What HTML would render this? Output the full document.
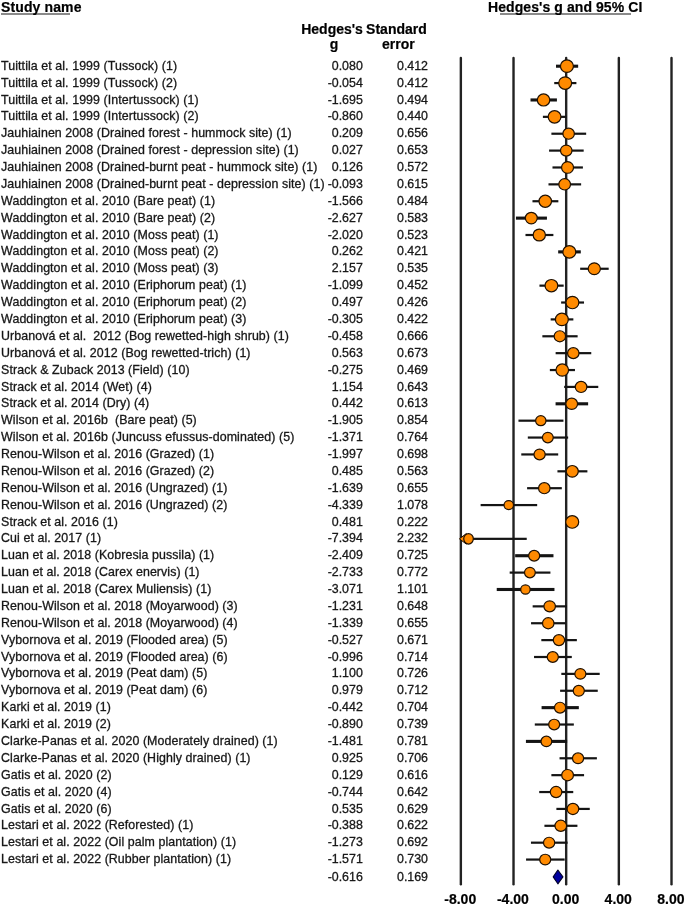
<!DOCTYPE html>
<html><head><meta charset="utf-8"><style>
html,body{margin:0;padding:0;background:#fff;}
#w{position:absolute;left:0;top:0;width:685px;height:906px;will-change:transform;}
body{width:685px;height:906px;position:relative;overflow:hidden;font-family:"Liberation Sans",sans-serif;color:#111;}
.t{position:absolute;white-space:pre;font-size:12.4px;line-height:14px;-webkit-text-stroke:0.3px #222;}
.n{letter-spacing:0.08px;}
.ti{letter-spacing:0.08px;}
.r{text-align:right;width:60px;}
.h{z-index:2;position:absolute;white-space:pre;font-size:14px;font-weight:bold;line-height:16px;color:#000;-webkit-text-stroke:0.2px #000;}
.c{text-align:center;}
svg{position:absolute;left:0;top:0;z-index:1;}
</style></head><body><div id="w">

<div class="h" style="left:1px;letter-spacing:0.12px;top:-1.25px">Study name</div>
<div class="h ti" style="left:488px;top:-1.25px">Hedges's g and 95% CI</div>
<div class="h c" style="left:294px;width:80px;top:21.25px">Hedges's </div>
<div class="h c" style="left:294px;width:80px;top:35.55px">g</div>
<div class="h c" style="left:358.4px;width:80px;top:21.25px">Standard </div>
<div class="h c" style="left:358.4px;width:80px;top:35.55px">error</div>
<div class="t n" style="left:1.1px;top:58.80px">Tuittila et al. 1999 (Tussock) (1)</div>
<div class="t r" style="left:302.8px;top:58.80px">0.080</div>
<div class="t r" style="left:368.0px;top:58.80px">0.412</div>
<div class="t n" style="left:1.1px;top:75.68px">Tuittila et al. 1999 (Tussock) (2)</div>
<div class="t r" style="left:302.8px;top:75.68px">-0.054</div>
<div class="t r" style="left:368.0px;top:75.68px">0.412</div>
<div class="t n" style="left:1.1px;top:92.56px">Tuittila et al. 1999 (Intertussock) (1)</div>
<div class="t r" style="left:302.8px;top:92.56px">-1.695</div>
<div class="t r" style="left:368.0px;top:92.56px">0.494</div>
<div class="t n" style="left:1.1px;top:109.44px">Tuittila et al. 1999 (Intertussock) (2)</div>
<div class="t r" style="left:302.8px;top:109.44px">-0.860</div>
<div class="t r" style="left:368.0px;top:109.44px">0.440</div>
<div class="t n" style="left:1.1px;top:126.32px">Jauhiainen 2008 (Drained forest - hummock site) (1)</div>
<div class="t r" style="left:302.8px;top:126.32px">0.209</div>
<div class="t r" style="left:368.0px;top:126.32px">0.656</div>
<div class="t n" style="left:1.1px;top:143.20px">Jauhiainen 2008 (Drained forest - depression site) (1)</div>
<div class="t r" style="left:302.8px;top:143.20px">0.027</div>
<div class="t r" style="left:368.0px;top:143.20px">0.653</div>
<div class="t n" style="left:1.1px;top:160.08px">Jauhiainen 2008 (Drained-burnt peat - hummock site) (1)</div>
<div class="t r" style="left:302.8px;top:160.08px">0.126</div>
<div class="t r" style="left:368.0px;top:160.08px">0.572</div>
<div class="t n" style="left:1.1px;top:176.96px">Jauhiainen 2008 (Drained-burnt peat - depression site) (1)</div>
<div class="t r" style="left:302.8px;top:176.96px">-0.093</div>
<div class="t r" style="left:368.0px;top:176.96px">0.615</div>
<div class="t n" style="left:1.1px;top:193.84px">Waddington et al. 2010 (Bare peat) (1)</div>
<div class="t r" style="left:302.8px;top:193.84px">-1.566</div>
<div class="t r" style="left:368.0px;top:193.84px">0.484</div>
<div class="t n" style="left:1.1px;top:210.72px">Waddington et al. 2010 (Bare peat) (2)</div>
<div class="t r" style="left:302.8px;top:210.72px">-2.627</div>
<div class="t r" style="left:368.0px;top:210.72px">0.583</div>
<div class="t n" style="left:1.1px;top:227.60px">Waddington et al. 2010 (Moss peat) (1)</div>
<div class="t r" style="left:302.8px;top:227.60px">-2.020</div>
<div class="t r" style="left:368.0px;top:227.60px">0.523</div>
<div class="t n" style="left:1.1px;top:244.48px">Waddington et al. 2010 (Moss peat) (2)</div>
<div class="t r" style="left:302.8px;top:244.48px">0.262</div>
<div class="t r" style="left:368.0px;top:244.48px">0.421</div>
<div class="t n" style="left:1.1px;top:261.36px">Waddington et al. 2010 (Moss peat) (3)</div>
<div class="t r" style="left:302.8px;top:261.36px">2.157</div>
<div class="t r" style="left:368.0px;top:261.36px">0.535</div>
<div class="t n" style="left:1.1px;top:278.24px">Waddington et al. 2010 (Eriphorum peat) (1)</div>
<div class="t r" style="left:302.8px;top:278.24px">-1.099</div>
<div class="t r" style="left:368.0px;top:278.24px">0.452</div>
<div class="t n" style="left:1.1px;top:295.12px">Waddington et al. 2010 (Eriphorum peat) (2)</div>
<div class="t r" style="left:302.8px;top:295.12px">0.497</div>
<div class="t r" style="left:368.0px;top:295.12px">0.426</div>
<div class="t n" style="left:1.1px;top:312.00px">Waddington et al. 2010 (Eriphorum peat) (3)</div>
<div class="t r" style="left:302.8px;top:312.00px">-0.305</div>
<div class="t r" style="left:368.0px;top:312.00px">0.422</div>
<div class="t n" style="left:1.1px;top:328.88px">Urbanová et al.  2012 (Bog rewetted-high shrub) (1)</div>
<div class="t r" style="left:302.8px;top:328.88px">-0.458</div>
<div class="t r" style="left:368.0px;top:328.88px">0.666</div>
<div class="t n" style="left:1.1px;top:345.76px">Urbanová et al. 2012 (Bog rewetted-trich) (1)</div>
<div class="t r" style="left:302.8px;top:345.76px">0.563</div>
<div class="t r" style="left:368.0px;top:345.76px">0.673</div>
<div class="t n" style="left:1.1px;top:362.64px">Strack &amp; Zuback 2013 (Field) (10)</div>
<div class="t r" style="left:302.8px;top:362.64px">-0.275</div>
<div class="t r" style="left:368.0px;top:362.64px">0.469</div>
<div class="t n" style="left:1.1px;top:379.52px">Strack et al. 2014 (Wet) (4)</div>
<div class="t r" style="left:302.8px;top:379.52px">1.154</div>
<div class="t r" style="left:368.0px;top:379.52px">0.643</div>
<div class="t n" style="left:1.1px;top:396.40px">Strack et al. 2014 (Dry) (4)</div>
<div class="t r" style="left:302.8px;top:396.40px">0.442</div>
<div class="t r" style="left:368.0px;top:396.40px">0.613</div>
<div class="t n" style="left:1.1px;top:413.28px">Wilson et al. 2016b  (Bare peat) (5)</div>
<div class="t r" style="left:302.8px;top:413.28px">-1.905</div>
<div class="t r" style="left:368.0px;top:413.28px">0.854</div>
<div class="t n" style="left:1.1px;top:430.16px">Wilson et al. 2016b (Juncuss efussus-dominated) (5)</div>
<div class="t r" style="left:302.8px;top:430.16px">-1.371</div>
<div class="t r" style="left:368.0px;top:430.16px">0.764</div>
<div class="t n" style="left:1.1px;top:447.04px">Renou-Wilson et al. 2016 (Grazed) (1)</div>
<div class="t r" style="left:302.8px;top:447.04px">-1.997</div>
<div class="t r" style="left:368.0px;top:447.04px">0.698</div>
<div class="t n" style="left:1.1px;top:463.92px">Renou-Wilson et al. 2016 (Grazed) (2)</div>
<div class="t r" style="left:302.8px;top:463.92px">0.485</div>
<div class="t r" style="left:368.0px;top:463.92px">0.563</div>
<div class="t n" style="left:1.1px;top:480.80px">Renou-Wilson et al. 2016 (Ungrazed) (1)</div>
<div class="t r" style="left:302.8px;top:480.80px">-1.639</div>
<div class="t r" style="left:368.0px;top:480.80px">0.655</div>
<div class="t n" style="left:1.1px;top:497.68px">Renou-Wilson et al. 2016 (Ungrazed) (2)</div>
<div class="t r" style="left:302.8px;top:497.68px">-4.339</div>
<div class="t r" style="left:368.0px;top:497.68px">1.078</div>
<div class="t n" style="left:1.1px;top:514.56px">Strack et al. 2016 (1)</div>
<div class="t r" style="left:302.8px;top:514.56px">0.481</div>
<div class="t r" style="left:368.0px;top:514.56px">0.222</div>
<div class="t n" style="left:1.1px;top:531.44px">Cui et al. 2017 (1)</div>
<div class="t r" style="left:302.8px;top:531.44px">-7.394</div>
<div class="t r" style="left:368.0px;top:531.44px">2.232</div>
<div class="t n" style="left:1.1px;top:548.32px">Luan et al. 2018 (Kobresia pussila) (1)</div>
<div class="t r" style="left:302.8px;top:548.32px">-2.409</div>
<div class="t r" style="left:368.0px;top:548.32px">0.725</div>
<div class="t n" style="left:1.1px;top:565.20px">Luan et al. 2018 (Carex enervis) (1)</div>
<div class="t r" style="left:302.8px;top:565.20px">-2.733</div>
<div class="t r" style="left:368.0px;top:565.20px">0.772</div>
<div class="t n" style="left:1.1px;top:582.08px">Luan et al. 2018 (Carex Muliensis) (1)</div>
<div class="t r" style="left:302.8px;top:582.08px">-3.071</div>
<div class="t r" style="left:368.0px;top:582.08px">1.101</div>
<div class="t n" style="left:1.1px;top:598.96px">Renou-Wilson et al. 2018 (Moyarwood) (3)</div>
<div class="t r" style="left:302.8px;top:598.96px">-1.231</div>
<div class="t r" style="left:368.0px;top:598.96px">0.648</div>
<div class="t n" style="left:1.1px;top:615.84px">Renou-Wilson et al. 2018 (Moyarwood) (4)</div>
<div class="t r" style="left:302.8px;top:615.84px">-1.339</div>
<div class="t r" style="left:368.0px;top:615.84px">0.655</div>
<div class="t n" style="left:1.1px;top:632.72px">Vybornova et al. 2019 (Flooded area) (5)</div>
<div class="t r" style="left:302.8px;top:632.72px">-0.527</div>
<div class="t r" style="left:368.0px;top:632.72px">0.671</div>
<div class="t n" style="left:1.1px;top:649.60px">Vybornova et al. 2019 (Flooded area) (6)</div>
<div class="t r" style="left:302.8px;top:649.60px">-0.996</div>
<div class="t r" style="left:368.0px;top:649.60px">0.714</div>
<div class="t n" style="left:1.1px;top:666.48px">Vybornova et al. 2019 (Peat dam) (5)</div>
<div class="t r" style="left:302.8px;top:666.48px">1.100</div>
<div class="t r" style="left:368.0px;top:666.48px">0.726</div>
<div class="t n" style="left:1.1px;top:683.36px">Vybornova et al. 2019 (Peat dam) (6)</div>
<div class="t r" style="left:302.8px;top:683.36px">0.979</div>
<div class="t r" style="left:368.0px;top:683.36px">0.712</div>
<div class="t n" style="left:1.1px;top:700.24px">Karki et al. 2019 (1)</div>
<div class="t r" style="left:302.8px;top:700.24px">-0.442</div>
<div class="t r" style="left:368.0px;top:700.24px">0.704</div>
<div class="t n" style="left:1.1px;top:717.12px">Karki et al. 2019 (2)</div>
<div class="t r" style="left:302.8px;top:717.12px">-0.890</div>
<div class="t r" style="left:368.0px;top:717.12px">0.739</div>
<div class="t n" style="left:1.1px;top:734.00px">Clarke-Panas et al. 2020 (Moderately drained) (1)</div>
<div class="t r" style="left:302.8px;top:734.00px">-1.481</div>
<div class="t r" style="left:368.0px;top:734.00px">0.781</div>
<div class="t n" style="left:1.1px;top:750.88px">Clarke-Panas et al. 2020 (Highly drained) (1)</div>
<div class="t r" style="left:302.8px;top:750.88px">0.925</div>
<div class="t r" style="left:368.0px;top:750.88px">0.706</div>
<div class="t n" style="left:1.1px;top:767.76px">Gatis et al. 2020 (2)</div>
<div class="t r" style="left:302.8px;top:767.76px">0.129</div>
<div class="t r" style="left:368.0px;top:767.76px">0.616</div>
<div class="t n" style="left:1.1px;top:784.64px">Gatis et al. 2020 (4)</div>
<div class="t r" style="left:302.8px;top:784.64px">-0.744</div>
<div class="t r" style="left:368.0px;top:784.64px">0.642</div>
<div class="t n" style="left:1.1px;top:801.52px">Gatis et al. 2020 (6)</div>
<div class="t r" style="left:302.8px;top:801.52px">0.535</div>
<div class="t r" style="left:368.0px;top:801.52px">0.629</div>
<div class="t n" style="left:1.1px;top:818.40px">Lestari et al. 2022 (Reforested) (1)</div>
<div class="t r" style="left:302.8px;top:818.40px">-0.388</div>
<div class="t r" style="left:368.0px;top:818.40px">0.622</div>
<div class="t n" style="left:1.1px;top:835.28px">Lestari et al. 2022 (Oil palm plantation) (1)</div>
<div class="t r" style="left:302.8px;top:835.28px">-1.273</div>
<div class="t r" style="left:368.0px;top:835.28px">0.692</div>
<div class="t n" style="left:1.1px;top:852.16px">Lestari et al. 2022 (Rubber plantation) (1)</div>
<div class="t r" style="left:302.8px;top:852.16px">-1.571</div>
<div class="t r" style="left:368.0px;top:852.16px">0.730</div>
<div class="t r" style="left:302.8px;top:869.60px">-0.616</div>
<div class="t r" style="left:368.0px;top:869.60px">0.169</div>
<div class="h c" style="left:430.25px;width:60px;top:890.55px">-8.00</div>
<div class="h c" style="left:482.92px;width:60px;top:890.55px">-4.00</div>
<div class="h c" style="left:535.58px;width:60px;top:890.55px">0.00</div>
<div class="h c" style="left:588.24px;width:60px;top:890.55px">4.00</div>
<div class="h c" style="left:640.91px;width:60px;top:890.55px">8.00</div>
<svg width="685" height="906">
<rect x="1" y="13" width="69" height="2" fill="#8a8a8a"/>
<rect x="500" y="13" width="131" height="2" fill="#8a8a8a"/>
<line x1="460.85" y1="57.9" x2="460.85" y2="884.2" stroke="#222" stroke-width="2.4" stroke-linecap="round"/>
<line x1="513.52" y1="57.9" x2="513.52" y2="884.2" stroke="#222" stroke-width="2.4" stroke-linecap="round"/>
<line x1="566.18" y1="57.9" x2="566.18" y2="884.2" stroke="#222" stroke-width="2.4" stroke-linecap="round"/>
<line x1="618.84" y1="57.9" x2="618.84" y2="884.2" stroke="#222" stroke-width="2.4" stroke-linecap="round"/>
<line x1="671.51" y1="57.9" x2="671.51" y2="884.2" stroke="#222" stroke-width="2.4" stroke-linecap="round"/>
<rect x="556.00" y="64.65" width="22.16" height="3.1" fill="#141414"/>
<ellipse cx="566.93" cy="66.20" rx="6.47" ry="6.27" fill="#ff8a00" stroke="#1f1000" stroke-width="1.2"/>
<rect x="554.24" y="81.98" width="22.16" height="2.2" fill="#141414"/>
<ellipse cx="565.17" cy="83.08" rx="6.47" ry="6.27" fill="#ff8a00" stroke="#1f1000" stroke-width="1.2"/>
<rect x="530.52" y="98.41" width="26.40" height="3.1" fill="#141414"/>
<ellipse cx="543.56" cy="99.96" rx="6.23" ry="6.03" fill="#ff8a00" stroke="#1f1000" stroke-width="1.2"/>
<rect x="542.90" y="115.74" width="23.61" height="2.2" fill="#141414"/>
<ellipse cx="554.56" cy="116.84" rx="6.39" ry="6.19" fill="#ff8a00" stroke="#1f1000" stroke-width="1.2"/>
<rect x="551.40" y="132.62" width="34.76" height="2.2" fill="#141414"/>
<ellipse cx="568.63" cy="133.72" rx="5.74" ry="5.54" fill="#ff8a00" stroke="#1f1000" stroke-width="1.2"/>
<rect x="549.08" y="149.50" width="34.60" height="2.2" fill="#141414"/>
<ellipse cx="566.24" cy="150.60" rx="5.75" ry="5.55" fill="#ff8a00" stroke="#1f1000" stroke-width="1.2"/>
<rect x="552.48" y="166.38" width="30.42" height="2.2" fill="#141414"/>
<ellipse cx="567.54" cy="167.48" rx="5.99" ry="5.79" fill="#ff8a00" stroke="#1f1000" stroke-width="1.2"/>
<rect x="548.49" y="183.26" width="32.64" height="2.2" fill="#141414"/>
<ellipse cx="564.66" cy="184.36" rx="5.86" ry="5.66" fill="#ff8a00" stroke="#1f1000" stroke-width="1.2"/>
<rect x="532.47" y="200.14" width="25.88" height="2.2" fill="#141414"/>
<ellipse cx="545.26" cy="201.24" rx="6.26" ry="6.06" fill="#ff8a00" stroke="#1f1000" stroke-width="1.2"/>
<rect x="515.95" y="216.57" width="30.99" height="3.1" fill="#141414"/>
<ellipse cx="531.29" cy="218.12" rx="5.96" ry="5.76" fill="#ff8a00" stroke="#1f1000" stroke-width="1.2"/>
<rect x="525.49" y="233.90" width="27.89" height="2.2" fill="#141414"/>
<ellipse cx="539.28" cy="235.00" rx="6.14" ry="5.94" fill="#ff8a00" stroke="#1f1000" stroke-width="1.2"/>
<rect x="558.17" y="250.33" width="22.63" height="3.1" fill="#141414"/>
<ellipse cx="569.33" cy="251.88" rx="6.45" ry="6.25" fill="#ff8a00" stroke="#1f1000" stroke-width="1.2"/>
<rect x="580.17" y="267.66" width="28.51" height="2.2" fill="#141414"/>
<ellipse cx="594.28" cy="268.76" rx="6.11" ry="5.91" fill="#ff8a00" stroke="#1f1000" stroke-width="1.2"/>
<rect x="539.45" y="284.54" width="24.23" height="2.2" fill="#141414"/>
<ellipse cx="551.41" cy="285.64" rx="6.36" ry="6.16" fill="#ff8a00" stroke="#1f1000" stroke-width="1.2"/>
<rect x="561.13" y="301.42" width="22.89" height="2.2" fill="#141414"/>
<ellipse cx="572.42" cy="302.52" rx="6.43" ry="6.23" fill="#ff8a00" stroke="#1f1000" stroke-width="1.2"/>
<rect x="550.67" y="318.30" width="22.68" height="2.2" fill="#141414"/>
<ellipse cx="561.86" cy="319.40" rx="6.44" ry="6.24" fill="#ff8a00" stroke="#1f1000" stroke-width="1.2"/>
<rect x="542.36" y="335.18" width="35.27" height="2.2" fill="#141414"/>
<ellipse cx="559.85" cy="336.28" rx="5.71" ry="5.51" fill="#ff8a00" stroke="#1f1000" stroke-width="1.2"/>
<rect x="555.63" y="352.06" width="35.63" height="2.2" fill="#141414"/>
<ellipse cx="573.29" cy="353.16" rx="5.69" ry="5.49" fill="#ff8a00" stroke="#1f1000" stroke-width="1.2"/>
<rect x="549.86" y="368.94" width="25.11" height="2.2" fill="#141414"/>
<ellipse cx="562.26" cy="370.04" rx="6.30" ry="6.10" fill="#ff8a00" stroke="#1f1000" stroke-width="1.2"/>
<rect x="564.18" y="385.82" width="34.09" height="2.2" fill="#141414"/>
<ellipse cx="581.07" cy="386.92" rx="5.78" ry="5.58" fill="#ff8a00" stroke="#1f1000" stroke-width="1.2"/>
<rect x="555.58" y="402.25" width="32.54" height="3.1" fill="#141414"/>
<ellipse cx="571.70" cy="403.80" rx="5.87" ry="5.67" fill="#ff8a00" stroke="#1f1000" stroke-width="1.2"/>
<rect x="518.46" y="419.58" width="44.98" height="2.2" fill="#141414"/>
<ellipse cx="540.80" cy="420.68" rx="5.18" ry="4.98" fill="#ff8a00" stroke="#1f1000" stroke-width="1.2"/>
<rect x="527.81" y="436.46" width="40.33" height="2.2" fill="#141414"/>
<ellipse cx="547.83" cy="437.56" rx="5.42" ry="5.22" fill="#ff8a00" stroke="#1f1000" stroke-width="1.2"/>
<rect x="521.28" y="453.34" width="36.92" height="2.2" fill="#141414"/>
<ellipse cx="539.59" cy="454.44" rx="5.61" ry="5.41" fill="#ff8a00" stroke="#1f1000" stroke-width="1.2"/>
<rect x="557.44" y="470.22" width="29.96" height="2.2" fill="#141414"/>
<ellipse cx="572.27" cy="471.32" rx="6.02" ry="5.82" fill="#ff8a00" stroke="#1f1000" stroke-width="1.2"/>
<rect x="527.10" y="487.10" width="34.71" height="2.2" fill="#141414"/>
<ellipse cx="544.30" cy="488.20" rx="5.74" ry="5.54" fill="#ff8a00" stroke="#1f1000" stroke-width="1.2"/>
<rect x="480.63" y="503.98" width="56.54" height="2.2" fill="#141414"/>
<ellipse cx="508.75" cy="505.08" rx="4.75" ry="4.55" fill="#ff8a00" stroke="#1f1000" stroke-width="1.2"/>
<rect x="566.18" y="520.86" width="12.36" height="2.2" fill="#141414"/>
<ellipse cx="572.21" cy="521.96" rx="6.50" ry="6.30" fill="#ff8a00" stroke="#1f1000" stroke-width="1.2"/>
<rect x="460.85" y="537.74" width="65.88" height="2.2" fill="#141414"/>
<polygon points="459.45,538.84 466.35,533.54 466.35,544.14" fill="#ff8a00" stroke="#1a0d00" stroke-width="1"/>
<ellipse cx="468.53" cy="538.84" rx="4.80" ry="5.20" fill="#ff8a00" stroke="#1f1000" stroke-width="1.2"/>
<rect x="515.15" y="554.17" width="38.32" height="3.1" fill="#141414"/>
<ellipse cx="534.16" cy="555.72" rx="5.54" ry="5.34" fill="#ff8a00" stroke="#1f1000" stroke-width="1.2"/>
<rect x="509.68" y="571.50" width="40.74" height="2.2" fill="#141414"/>
<ellipse cx="529.90" cy="572.60" rx="5.40" ry="5.20" fill="#ff8a00" stroke="#1f1000" stroke-width="1.2"/>
<rect x="496.74" y="587.93" width="57.72" height="3.1" fill="#141414"/>
<ellipse cx="525.45" cy="589.48" rx="4.75" ry="4.55" fill="#ff8a00" stroke="#1f1000" stroke-width="1.2"/>
<rect x="532.65" y="605.26" width="34.34" height="2.2" fill="#141414"/>
<ellipse cx="549.67" cy="606.36" rx="5.76" ry="5.56" fill="#ff8a00" stroke="#1f1000" stroke-width="1.2"/>
<rect x="531.05" y="622.14" width="34.71" height="2.2" fill="#141414"/>
<ellipse cx="548.25" cy="623.24" rx="5.74" ry="5.54" fill="#ff8a00" stroke="#1f1000" stroke-width="1.2"/>
<rect x="541.33" y="639.02" width="35.53" height="2.2" fill="#141414"/>
<ellipse cx="558.94" cy="640.12" rx="5.69" ry="5.49" fill="#ff8a00" stroke="#1f1000" stroke-width="1.2"/>
<rect x="534.04" y="655.90" width="37.75" height="2.2" fill="#141414"/>
<ellipse cx="552.77" cy="657.00" rx="5.57" ry="5.37" fill="#ff8a00" stroke="#1f1000" stroke-width="1.2"/>
<rect x="561.33" y="672.78" width="38.37" height="2.2" fill="#141414"/>
<ellipse cx="580.36" cy="673.88" rx="5.53" ry="5.33" fill="#ff8a00" stroke="#1f1000" stroke-width="1.2"/>
<rect x="560.10" y="689.66" width="37.65" height="2.2" fill="#141414"/>
<ellipse cx="578.77" cy="690.76" rx="5.57" ry="5.37" fill="#ff8a00" stroke="#1f1000" stroke-width="1.2"/>
<rect x="541.59" y="706.09" width="37.23" height="3.1" fill="#141414"/>
<ellipse cx="560.06" cy="707.64" rx="5.60" ry="5.40" fill="#ff8a00" stroke="#1f1000" stroke-width="1.2"/>
<rect x="534.79" y="723.42" width="39.04" height="2.2" fill="#141414"/>
<ellipse cx="554.16" cy="724.52" rx="5.49" ry="5.29" fill="#ff8a00" stroke="#1f1000" stroke-width="1.2"/>
<rect x="525.93" y="739.85" width="41.21" height="3.1" fill="#141414"/>
<ellipse cx="546.38" cy="741.40" rx="5.38" ry="5.18" fill="#ff8a00" stroke="#1f1000" stroke-width="1.2"/>
<rect x="559.54" y="757.18" width="37.34" height="2.2" fill="#141414"/>
<ellipse cx="578.06" cy="758.28" rx="5.59" ry="5.39" fill="#ff8a00" stroke="#1f1000" stroke-width="1.2"/>
<rect x="551.38" y="774.06" width="32.69" height="2.2" fill="#141414"/>
<ellipse cx="567.58" cy="775.16" rx="5.86" ry="5.66" fill="#ff8a00" stroke="#1f1000" stroke-width="1.2"/>
<rect x="539.22" y="790.94" width="34.03" height="2.2" fill="#141414"/>
<ellipse cx="556.08" cy="792.04" rx="5.78" ry="5.58" fill="#ff8a00" stroke="#1f1000" stroke-width="1.2"/>
<rect x="556.39" y="807.82" width="33.36" height="2.2" fill="#141414"/>
<ellipse cx="572.92" cy="808.92" rx="5.82" ry="5.62" fill="#ff8a00" stroke="#1f1000" stroke-width="1.2"/>
<rect x="544.42" y="824.70" width="33.00" height="2.2" fill="#141414"/>
<ellipse cx="560.77" cy="825.80" rx="5.84" ry="5.64" fill="#ff8a00" stroke="#1f1000" stroke-width="1.2"/>
<rect x="530.96" y="841.58" width="36.61" height="2.2" fill="#141414"/>
<ellipse cx="549.12" cy="842.68" rx="5.63" ry="5.43" fill="#ff8a00" stroke="#1f1000" stroke-width="1.2"/>
<rect x="526.06" y="858.46" width="38.58" height="2.2" fill="#141414"/>
<ellipse cx="545.20" cy="859.56" rx="5.52" ry="5.32" fill="#ff8a00" stroke="#1f1000" stroke-width="1.2"/>
<polygon points="553.21,876.90 557.87,870.00 562.93,876.90 557.87,883.80" fill="#0000a0" stroke="#000028" stroke-width="1.1" stroke-linejoin="round"/>
</svg>
</div></body></html>
